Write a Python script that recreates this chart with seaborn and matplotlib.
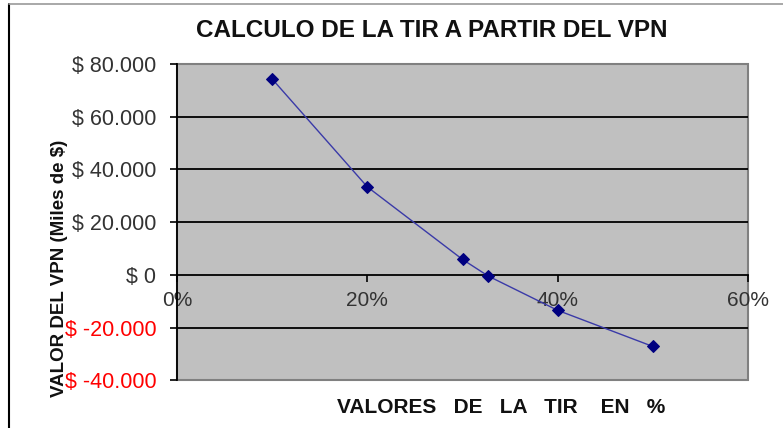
import matplotlib
matplotlib.use("Agg")
import matplotlib.pyplot as plt
import matplotlib.ticker as mticker
from matplotlib.lines import Line2D
import seaborn as sns
import pandas as pd

# Data
tir = [0.10, 0.20, 0.30, 0.327, 0.40, 0.50]
vpn = [74300, 33400, 5900, -400, -13400, -27100]
title = "CALCULO DE LA TIR A PARTIR DEL VPN"
xlabel = "VALORES   DE   LA   TIR    EN   %"
ylabel = "VALOR DEL VPN (Miles de $)"

df = pd.DataFrame({"tir": tir, "vpn": vpn})

sns.set_theme(style="white")
plt.rcParams["font.family"] = ["Liberation Sans", "DejaVu Sans"]

fig = plt.figure(figsize=(7.83, 4.28), dpi=100)
ax = fig.add_axes([0.2261, 0.1110, 0.9553 - 0.2261, 0.8505 - 0.1110])

ax.set_facecolor("#c0c0c0")
ax.patch.set_edgecolor("#808080")
ax.patch.set_linewidth(1.5)

sns.lineplot(data=df, x="tir", y="vpn", ax=ax, color="#3a3aa8", lw=1.0,
             marker="D", markersize=6, markerfacecolor="#000080",
             markeredgecolor="#000080", zorder=5)

ax.set_xlim(0, 0.6)
ax.set_ylim(-40000, 80000)
ax.xaxis.set_major_locator(mticker.MultipleLocator(0.2))
ax.yaxis.set_major_locator(mticker.MultipleLocator(20000))
ax.xaxis.set_major_formatter(mticker.FuncFormatter(lambda v, p: f"{v*100:.0f}%"))


def money(v, p):
    n = int(round(v))
    s = f"{abs(n):,}".replace(",", ".")
    return f"$ -{s}" if n < 0 else f"$ {s}"


ax.yaxis.set_major_formatter(mticker.FuncFormatter(money))

for yv in [60000, 40000, 20000, -20000]:
    ax.axhline(yv, color="black", lw=1.3, zorder=1)

for s in ["top", "right"]:
    ax.spines[s].set_visible(False)
ax.spines["left"].set_color("black")
ax.spines["left"].set_linewidth(1.3)
ax.spines["bottom"].set_position(("data", 0))
ax.spines["bottom"].set_color("black")
ax.spines["bottom"].set_linewidth(1.3)
ax.spines["bottom"].set_zorder(2)

ax.tick_params(axis="x", bottom=True, direction="out", length=5, width=1.2,
               color="black", pad=6.5, labelsize=15, labelcolor="#333333")
ax.tick_params(axis="y", left=True, direction="out", length=5, width=1.2,
               color="black", pad=10, labelsize=15.5, labelcolor="#333333")
ax.set_xlabel("")
ax.set_ylabel("")
fig.canvas.draw()
for lab, val in zip(ax.get_yticklabels(), ax.get_yticks()):
    if val < 0:
        lab.set_color("red")

fig.text(0.551, 0.928, title, ha="center", va="center", fontsize=17.5,
         fontweight="bold", color="#111111")
fig.text(0.640, 0.049, xlabel, ha="center", va="center", fontsize=15,
         fontweight="bold", color="#111111")
fig.text(0.0755, 0.374, ylabel, ha="center", va="center", rotation=90,
         fontsize=13.5, fontweight="bold", color="#111111")

fig.add_artist(Line2D([0.011, 0.011], [0, 0.99], transform=fig.transFigure,
                      color="black", lw=1.5))
fig.add_artist(Line2D([0.011, 1.0], [0.99, 0.99], transform=fig.transFigure,
                      color="#999999", lw=1.2))

fig.savefig("out.png", dpi=100)
